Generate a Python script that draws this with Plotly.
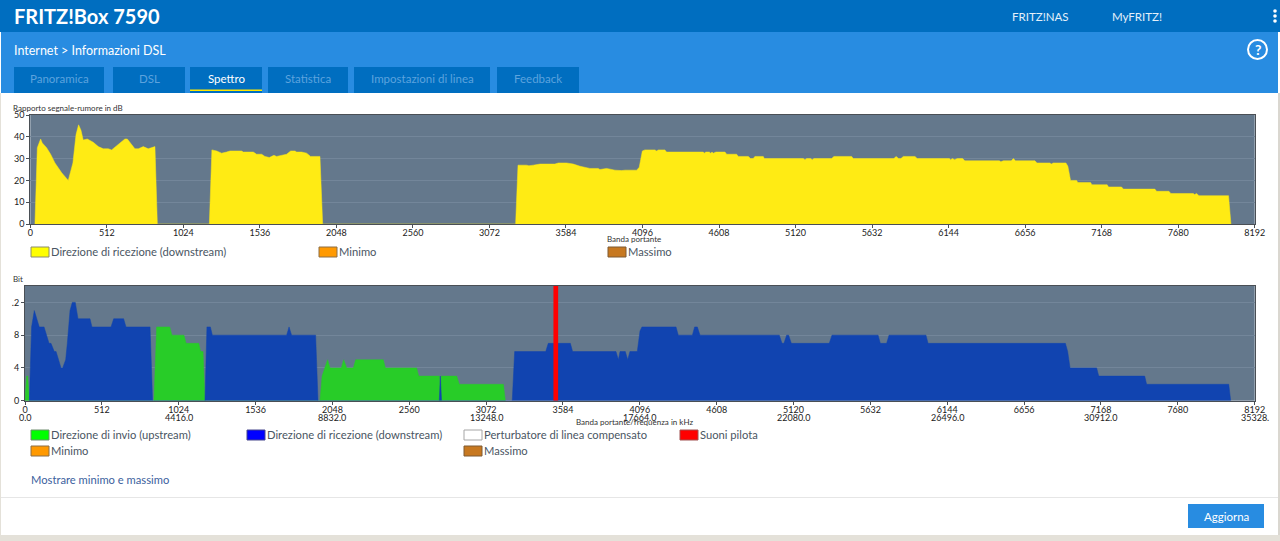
import plotly.graph_objects as go

W = 1280
H = 541

# signal to noise, carrier / dB
snr_x = [31, 47, 69, 80, 109, 136, 165, 210, 254, 285, 306, 323, 339, 354, 381, 421, 455, 488, 522, 544, 633, 649, 700, 723, 756, 789, 834, 850,
         1198, 1215, 1247, 1280, 1313, 1336, 1414, 1425, 1492, 1514, 1548, 1570, 1599, 1630, 1648, 1681, 1715, 1742, 1771, 1782, 1815, 1849, 1875, 1938, 1956,
         3247, 3263, 3321, 3336, 3365, 3410, 3510, 3533, 3588, 3633, 3678, 3744, 3800, 3811, 3856, 3912, 3956, 3979, 4057, 4074, 4095, 4112, 4179, 4190, 4202, 4246, 4257,
         4503, 4509, 4520, 4543, 4552, 4561, 4570, 4587, 4648, 4659, 4726, 4737, 4804, 4819, 4837, 4848, 4904, 4911, 5172, 5183, 5194, 5221, 5232, 5243, 5361, 5377, 5495, 5506,
         5778, 5792, 5810, 5825, 5841, 5919, 5934, 6149, 6157, 6170, 6184, 6202, 6238, 6253, 6483, 6494, 6510, 6563, 6577, 6592, 6722, 6735, 6822, 6831, 6844, 6929, 6942, 6960,
         7000, 7009, 7094, 7103, 7205, 7214, 7301, 7313, 7524, 7536, 7618, 7631, 7781, 7790, 7803, 7819, 8017, 8033]
snr_y = [0, 35, 39, 37.2, 35, 32, 28, 23.5, 20, 28, 41, 45.5, 43, 38.5, 39, 37.5, 35.5, 34.5, 34.5, 34, 39, 39, 34.5, 34.5, 35.5, 34.5, 35.5, 0,
         0, 34, 33.5, 32.5, 33, 33.5, 33.5, 33, 33, 32, 32, 31, 30.5, 31.5, 31, 31.5, 32, 33.5, 33.5, 33, 33, 32.5, 31, 31, 0,
         0, 27, 27, 26.7, 27, 27.5, 27.5, 28, 28, 27.5, 26.5, 25.5, 25.5, 25, 25.5, 24.7, 24.5, 24.7, 24.7, 26, 33.5, 34, 34, 33.5, 34, 34, 33,
         33, 32.5, 33, 33, 32.5, 33, 32.5, 33, 33, 32, 32, 31, 31, 30, 30, 31, 31, 30, 30, 29.5, 30, 30, 29.5, 30, 30, 31, 31, 30,
         30, 31, 30, 30, 31, 31, 30, 30, 29.5, 30, 29.5, 30, 30, 29, 29, 28.5, 29, 29, 30, 29, 29, 28, 28, 27.5, 28, 28, 26.5, 20,
         20, 19, 19, 18, 18, 17, 17, 16, 16, 15, 15, 14, 14, 13.5, 14, 13, 13, 0]

# bits per carrier
up_x = [0, 11, 18, 29, 859, 877, 964, 979, 1059, 1073, 1157, 1170, 1186, 1199,
        1965, 1979, 2016, 2032, 2107, 2123, 2143, 2187, 2203, 2387, 2401, 2609, 2623, 2754, 2762, 2767, 2773, 2780, 2876, 2893, 3187, 3200]
up_y = [0, 3, 3, 0, 0, 9, 9, 8, 8, 7, 7, 6, 6, 0,
        0, 3, 5, 4, 4, 5, 4, 4, 5, 5, 4, 4, 3, 3, 3, 0, 3, 3, 3, 2, 2, 0]

down_x = [29, 44, 62, 95, 127, 160, 173, 195, 207, 240, 251, 271, 282, 300, 315, 335, 353, 433, 446, 573, 591, 657, 673, 833, 850,
          1199, 1212, 1235, 1248, 1743, 1759, 1776, 1936, 1952, 2760, 2767, 2775,
          3246, 3262, 3469, 3486, 3633, 3648, 3937, 3953, 3964, 3999, 4015, 4030, 4079, 4097, 4110, 4337, 4352, 4446, 4461, 4479, 4497,
          5025, 5043, 5056, 5074, 5087, 5105, 5358, 5376, 5683, 5698, 5740, 5756, 6002, 6016, 6931, 6946, 6962, 7139, 7153, 7459, 7472, 8019, 8032]
down_y = [0, 9, 11, 9, 9, 7, 7, 6, 6, 4, 4, 5, 7, 11, 12, 12, 10, 10, 9, 9, 10, 10, 9, 9, 0,
          0, 9, 9, 8, 8, 9, 8, 8, 0, 0, 3, 0,
          0, 6, 6, 7, 7, 6, 6, 5, 6, 6, 5, 6, 6, 8.5, 9, 9, 8, 8, 9, 9, 8,
          8, 7, 7, 8, 8, 7, 7, 8, 8, 7, 7, 8, 8, 7, 7, 6, 4, 4, 3, 3, 2, 2, 0]

pilot_tones = [3536]
bit_top = 14

carrier_ticks = [0, 512, 1024, 1536, 2048, 2560, 3072, 3584, 4096, 4608, 5120, 5632, 6144, 6656, 7168, 7680, 8192]
khz_ticks = [0, 1024, 2048, 3072, 4096, 5120, 6144, 7168, 8192]
khz_labels = ["0.0", "4416.0", "8832.0", "13248.0", "17664.0", "22080.0", "26496.0", "30912.0", "35328."]
snr_ticks = [0, 10, 20, 30, 40, 50]
bit_ticks = [0, 4, 8, 12]
bit_labels = ["0", "4", "8", ".2"]

tabs = ["Panoramica", "DSL", "Spettro", "Statistica", "Impostazioni di linea", "Feedback"]
tab_left = [14, 113, 190, 268, 354, 497]
tab_right = [104, 185, 262, 348, 490, 579]

FONT = "Lato"
PLOT_BG = "#64788C"
GRID = "#73869A"
AXIS = "#4A4F55"
TICK_TEXT = "#222222"
LEGEND_TEXT = "#4A5663"

shapes = []
notes = []


def px(x):
    return x / W


def py(y):
    return 1 - y / H


def box(x0, y0, x1, y1, fill, line=None, kind="rect"):
    shapes.append(dict(type=kind, xref="paper", yref="paper", x0=px(x0), x1=px(x1), y0=py(y0), y1=py(y1),
                       fillcolor=fill, line=dict(color=line or fill, width=1 if line else 0), layer="below"))


def text(x, y, s, size, color, anchor="left", bold=False):
    if bold:
        s = "<b>" + s + "</b>"
    notes.append(dict(xref="paper", yref="paper", x=px(x), y=py(y), text=s, showarrow=False, xanchor=anchor, yanchor="middle",
                      font=dict(family=FONT, size=size, color=color), borderpad=0, borderwidth=0))


def swatch(x, y, fill, edge, label):
    box(x, y - 5, x + 18, y + 5, fill, edge)
    text(x + 20, y - 0.5, label, 11.2, LEGEND_TEXT)


# page around the charts
box(0, 93, 1, H, "#E4E1D9")
box(1278, 93, W, H, "#DAD7D0")
box(0, 535, W, H, "#E4E1D9")
box(0, 0, W, 32, "#006EC0")
box(1, 32, 1278, 93, "#288CE1")
text(14, 16, "FRITZ!Box 7590", 20, "#FFFFFF", bold=True)
text(1040, 16, "FRITZ!NAS", 11.5, "#E4F0FA", "center")
text(1137, 16, "MyFRITZ!", 11.5, "#E4F0FA", "center")
text(14, 51, "Internet &gt; Informazioni DSL", 12.5, "#FFFFFF")
for dot in [11, 16, 21]:
    box(1273.2, dot - 1.8, 1276.8, dot + 1.8, "#FFFFFF", kind="circle")
shapes.append(dict(type="circle", xref="paper", yref="paper", x0=px(1248), x1=px(1267), y0=py(40), y1=py(59),
                   line=dict(color="#FFFFFF", width=2), layer="below"))
text(1257.5, 49.5, "?", 14, "#FFFFFF", "center", bold=True)

for i in range(len(tabs)):
    box(tab_left[i], 67, tab_right[i], 93, "#006EC0")
    color = "#FFFFFF" if tabs[i] == "Spettro" else "#5CA3DE"
    text((tab_left[i] + tab_right[i]) / 2, 78, tabs[i], 11.5, color, "center")
box(190, 89.5, 262, 91, "#FFE600")

# chart captions
text(13, 108, "Rapporto segnale-rumore in dB", 8, "#333333")
text(634, 239, "Banda portante", 8, "#333333", "center")
text(13, 279, "Bit", 8, "#333333")
text(634, 422, "Banda portante/frequenza in kHz", 8, "#333333", "center")

swatch(31, 252, "#FFFF00", "#8C8C6E", "Direzione di ricezione (downstream)")
swatch(319, 252, "#FF9900", "#8C6E46", "Minimo")
swatch(608, 252, "#C77820", "#7E5A32", "Massimo")
swatch(31, 435, "#00FF00", "#6E8C6E", "Direzione di invio (upstream)")
swatch(247, 435, "#0000FF", "#46468C", "Direzione di ricezione (downstream)")
swatch(464, 435, "#FFFFFF", "#A6A6A6", "Perturbatore di linea compensato")
swatch(680, 435, "#FF0000", "#A05050", "Suoni pilota")
swatch(31, 451, "#FF9900", "#8C6E46", "Minimo")
swatch(464, 451, "#C77820", "#7E5A32", "Massimo")

text(31, 479, "Mostrare minimo e massimo", 11.2, "#3C619E")
box(1, 497, 1278, 498, "#E6E6E6")
box(1188, 504, 1264, 528, "#288CE1")
text(1226, 516, "Aggiorna", 11.5, "#FFFFFF", "center")

# second line under the bit chart ticks
for i in range(len(khz_ticks)):
    notes.append(dict(xref="x2", yref="paper", x=khz_ticks[i], y=py(417), text=khz_labels[i], showarrow=False, xanchor="center", yanchor="middle",
                      font=dict(family=FONT, size=9, color=TICK_TEXT)))

fig = go.Figure()
fig.add_trace(go.Scatter(x=snr_x, y=snr_y, mode="lines", fill="tozeroy", fillcolor="#FFEB14",
                         line=dict(color="#FFEB14", width=0.5), xaxis="x", yaxis="y"))
fig.add_trace(go.Scatter(x=up_x, y=up_y, mode="lines", fill="tozeroy", fillcolor="#28CC28",
                         line=dict(color="#28CC28", width=0.5), xaxis="x2", yaxis="y2"))
fig.add_trace(go.Scatter(x=down_x, y=down_y, mode="lines", fill="tozeroy", fillcolor="#1144B0",
                         line=dict(color="#1144B0", width=0.5), xaxis="x2", yaxis="y2"))
for tone in pilot_tones:
    fig.add_trace(go.Scatter(x=[tone, tone], y=[0, bit_top], mode="lines",
                             line=dict(color="#FF0000", width=4.7), xaxis="x2", yaxis="y2"))

tick_font = dict(family=FONT, size=9, color=TICK_TEXT)
x_style = dict(range=[0, 8192], tickmode="array", tickvals=carrier_ticks, ticktext=[str(c) for c in carrier_ticks], showgrid=False, zeroline=False,
               showline=True, mirror=True, linecolor=AXIS, linewidth=1, ticks="outside", ticklen=3, tickcolor=AXIS, tickfont=tick_font, tickangle=0,
               ticklabelstandoff=-3)
y_style = dict(tickmode="array", showgrid=True, gridcolor=GRID, gridwidth=1, zeroline=False, showline=True, mirror=True,
               linecolor=AXIS, linewidth=1, ticks="outside", ticklen=3, tickcolor=AXIS, tickfont=tick_font)

fig.update_layout(
    width=W, height=H, autosize=False, showlegend=False, hovermode=False,
    margin=dict(l=0, r=0, t=0, b=0, pad=0, autoexpand=False),
    paper_bgcolor="#FFFFFF", plot_bgcolor=PLOT_BG,
    xaxis=dict(domain=[px(30.3), px(1254.7)], anchor="y", **x_style),
    yaxis=dict(domain=[py(224), py(115)], anchor="x", range=[0, 50], tickvals=snr_ticks, ticktext=[str(v) for v in snr_ticks], **y_style),
    xaxis2=dict(domain=[px(25), px(1254.7)], anchor="y2", **x_style),
    yaxis2=dict(domain=[py(400.7), py(286)], anchor="x2", range=[0, bit_top], tickvals=bit_ticks, ticktext=bit_labels, **y_style),
    shapes=shapes, annotations=notes,
)

fig.write_html(
    "out.html",
    config=dict(displayModeBar=False, responsive=False),
    default_width=W,
    default_height=H,
    post_script="document.body.style.margin='0';document.body.style.overflow='hidden';",
)
